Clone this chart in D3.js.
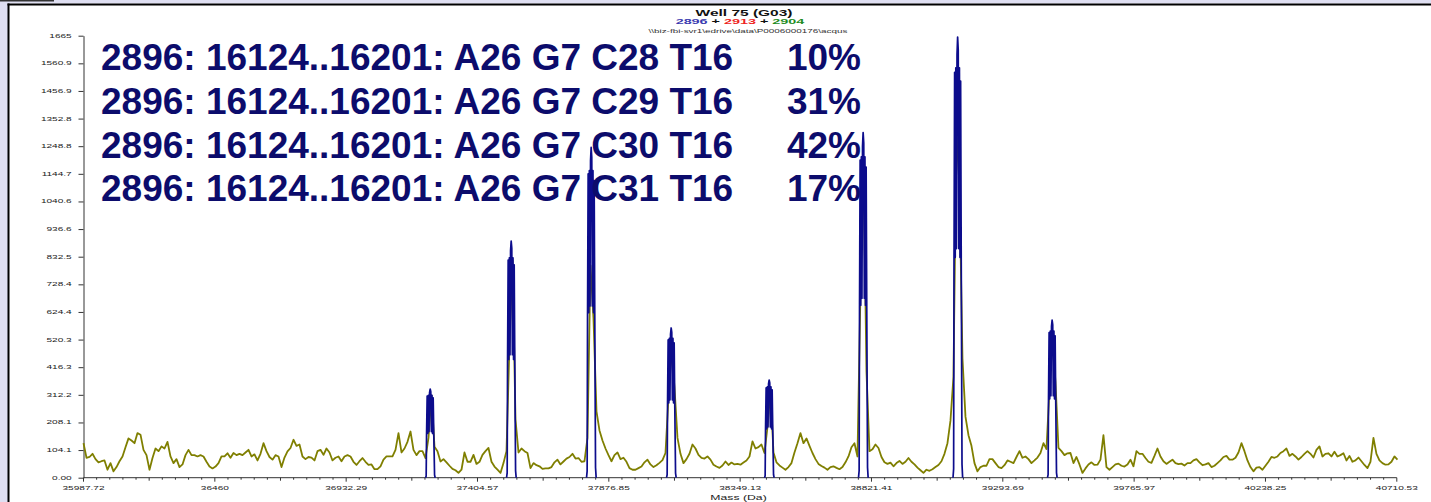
<!DOCTYPE html>
<html>
<head>
<meta charset="utf-8">
<script src="https://cdn.jsdelivr.net/npm/d3@7"></script>
<style>
  body { margin: 0; background: #fff; }
  svg { display: block; font-family: "Liberation Sans", Arial, sans-serif; }
</style>
</head>
<body>
<script>
// ---- data ----
const yTicks = [0, 104.1, 208.1, 312.2, 416.3, 520.3, 624.4, 728.4, 832.5, 936.6, 1040.6, 1144.7, 1248.8, 1352.8, 1456.9, 1560.9, 1665];
const yTickLabels = ["0.00", "104.1", "208.1", "312.2", "416.3", "520.3", "624.4", "728.4", "832.5", "936.6", "1040.6", "1144.7", "1248.8", "1352.8", "1456.9", "1560.9", "1665"];
const xTicks = [35987.72, 36460, 36932.29, 37404.57, 37876.85, 38349.13, 38821.41, 39293.69, 39765.97, 40238.25, 40710.53];
const xTickLabels = ["35987.72", "36460", "36932.29", "37404.57", "37876.85", "38349.13", "38821.41", "39293.69", "39765.97", "40238.25", "40710.53"];

// blue trace (2896): peak centres (Da) and heights
const peakCenters = [37234.4, 37525.7, 37813.3, 38101.0, 38453.4, 38791.4, 39131.2, 39471.0];
const peakHeights = [334, 891, 1244, 564, 368, 1300, 1660, 594];
// shape of one peak as drawn: offset (Da) and fraction of its height
const peakShapeDx = [-16.6, -14.4, -13.0, -10.8, -8.6, -6.5, -4.3, -2.2, 0, 2.2, 4.3, 6.5, 8.6, 10.8, 13.0, 15.8, 18.0];
const peakShapeFrac = [0, 0.02, 0.49, 0.92, 0.50, 0.93, 0.52, 0.96, 1.0, 0.97, 0.52, 0.93, 0.50, 0.90, 0.49, 0.03, 0];

// olive trace: sampled from 35987.72 Da every 10.788 Da
const noiseStart = 35987.72;
const noiseStep = 10.788;
const noise = [
  130, 75, 78, 90, 70, 58, 62, 65, 30, 55,
  24, 40, 62, 80, 115, 148, 140, 130, 168, 162,
  105, 85, 30, 74, 110, 100, 118, 110, 135, 80,
  55, 70, 40, 50, 85, 105, 85, 85, 80, 85,
  80, 60, 42, 35, 42, 55, 80, 80, 92, 75,
  93, 85, 90, 85, 95, 105, 80, 88, 65, 90,
  130, 100, 78, 68, 85, 80, 40, 76, 99, 112,
  143, 120, 125, 80, 70, 78, 76, 65, 100, 105,
  86, 110, 95, 65, 75, 80, 62, 80, 85, 80,
  60, 48, 62, 74, 60, 48, 50, 32, 32, 43,
  68, 80, 80, 80, 105, 168, 95, 110, 135, 174,
  105, 85, 100, 100, 74, 150, 310, 117, 100, 61,
  70, 58, 45, 33, 28, 18, 30, 95, 60, 60,
  86, 52, 60, 86, 100, 112, 60, 42, 30, 18,
  55, 100, 500, 820, 220, 95, 110, 100, 93, 36,
  55, 47, 43, 33, 35, 35, 40, 58, 68, 50,
  61, 72, 78, 90, 72, 74, 60, 62, 150, 800,
  600, 250, 178, 140, 110, 85, 62, 85, 95, 70,
  75, 60, 36, 30, 30, 36, 42, 58, 68, 50,
  40, 47, 56, 66, 93, 300, 480, 340, 150, 90,
  55, 70, 90, 125, 110, 86, 75, 72, 80, 68,
  49, 42, 37, 46, 61, 48, 57, 50, 52, 49,
  57, 65, 80, 137, 110, 115, 125, 93, 190, 330,
  95, 58, 46, 38, 30, 40, 55, 95, 130, 168,
  130, 148, 120, 93, 70, 52, 44, 38, 30, 40,
  43, 37, 32, 40, 58, 80, 115, 130, 80, 700,
  1200, 400, 100, 107, 125, 112, 78, 58, 52, 57,
  43, 55, 63, 52, 60, 74, 60, 50, 38, 28,
  18, 30, 26, 32, 40, 48, 62, 90, 130, 215,
  380, 1300, 1100, 450, 230, 160, 120, 55, 24, 40,
  45, 45, 70, 70, 55, 40, 36, 47, 65, 60,
  55, 78, 100, 75, 80, 70, 55, 65, 76, 93,
  130, 108, 330, 520, 360, 112, 100, 85, 92, 93,
  55, 78, 50, 18, 35, 50, 58, 48, 49, 68,
  160, 40, 30, 40, 50, 53, 45, 42, 50, 68,
  43, 100, 90, 90, 74, 60, 56, 82, 110, 80,
  62, 52, 60, 68, 55, 51, 53, 46, 55, 55,
  65, 70, 58, 47, 50, 55, 40, 45, 55, 65,
  78, 82, 68, 68, 75, 95, 130, 100, 65, 40,
  24, 38, 40, 30, 45, 60, 78, 75, 80, 93,
  100, 110, 82, 90, 80, 68, 78, 90, 100, 90,
  76, 105, 118, 80, 90, 92, 80, 98, 80, 85,
  92, 65, 82, 60, 65, 76, 62, 48, 36, 60,
  150, 90, 65, 55, 49, 50, 60, 80, 68
];

const titleText = "Well 75 (G03)";
const traceNames = ["2896", "2913", "2904"];
const traceColors = ["#3a3ab0", "#ee2222", "#228b22"];
const pathText = "\\\\biz-fbi-svr1\\edrive\\data\\P0006000176\\acqus";
const resultLabels = [
  "2896: 16124..16201: A26 G7 C28 T16",
  "2896: 16124..16201: A26 G7 C29 T16",
  "2896: 16124..16201: A26 G7 C30 T16",
  "2896: 16124..16201: A26 G7 C31 T16"
];
const resultPercents = ["10%", "31%", "42%", "17%"];

// ---- drawing ----
const W = 1431, H = 502;
const stretch = 1.8; // the chart's own small text is stretched sideways

const svg = d3.select("body").append("svg")
  .attr("width", W)
  .attr("height", H);

// frame round the chart
svg.append("rect").attr("x", 0).attr("y", 0).attr("width", W).attr("height", H).attr("fill", "#fff");
svg.append("rect").attr("x", 0).attr("y", 0).attr("width", 8).attr("height", H).attr("fill", "#dfdff2");
svg.append("rect").attr("x", 0).attr("y", 0).attr("width", W).attr("height", 3.5).attr("fill", "#dfdff2");
svg.append("rect").attr("x", 0).attr("y", 0).attr("width", 54).attr("height", 1.5).attr("fill", "#333");
svg.append("rect").attr("x", 7.5).attr("y", 3.5).attr("width", 2).attr("height", H).attr("fill", "#000");
svg.append("rect").attr("x", 7.5).attr("y", 3.5).attr("width", W).attr("height", 2).attr("fill", "#000");

let x = d3.scaleLinear()
  .domain([xTicks[0], xTicks[xTicks.length - 1]])
  .range([83.5, 1396.8]);

let y = d3.scaleLinear()
  .domain([0, 1665])
  .range([477.7, 35.7]);

// x axis: labelled ticks, half ticks and tenths
let xAxisG = svg.append("g")
  .attr("transform", "translate(0," + y(0) + ")");

xAxisG.append("line")
  .attr("x1", x.range()[0]).attr("x2", x.range()[1])
  .attr("stroke", "#333").attr("stroke-width", 1);

let tickStep = (xTicks[1] - xTicks[0]) / 10;
let minorTicks = d3.range(0, 101).map(i => xTicks[0] + i * tickStep);

xAxisG.selectAll(".minor")
  .data(minorTicks)
  .enter()
  .append("line")
  .attr("class", "minor")
  .attr("x1", d => x(d)).attr("x2", d => x(d))
  .attr("y1", 0)
  .attr("y2", (d, i) => i % 10 === 0 ? 4 : (i % 5 === 0 ? 3 : 2))
  .attr("stroke", "#333")
  .attr("stroke-width", 1);

xAxisG.selectAll(".xlab")
  .data(xTicks)
  .enter()
  .append("text")
  .attr("class", "xlab")
  .attr("transform", d => "translate(" + x(d) + ",12.6) scale(" + stretch + ",1)")
  .attr("text-anchor", "middle")
  .attr("font-size", 5.6)
  .attr("fill", "#222")
  .text((d, i) => xTickLabels[i]);

svg.append("text")
  .attr("transform", "translate(738.5,499.5) scale(" + stretch + ",1)")
  .attr("text-anchor", "middle")
  .attr("font-size", 6.8)
  .attr("fill", "#222")
  .text("Mass (Da)");

// y axis
let axeY = d3.axisLeft(y)
  .tickValues(yTicks)
  .tickFormat("")
  .tickSize(5)
  .tickSizeOuter(0);

let yAxisG = svg.append("g")
  .attr("transform", "translate(" + x.range()[0] + ",0)")
  .call(axeY);

yAxisG.select(".domain").attr("stroke", "#333");
yAxisG.selectAll(".tick line").attr("stroke", "#333");

yAxisG.selectAll(".ylab")
  .data(yTicks)
  .enter()
  .append("text")
  .attr("class", "ylab")
  .attr("transform", d => "translate(-11.8," + (y(d) + 2) + ") scale(" + stretch + ",1)")
  .attr("text-anchor", "end")
  .attr("font-size", 5.6)
  .attr("fill", "#222")
  .text((d, i) => yTickLabels[i]);

// olive trace
let line = d3.line()
  .x(d => x(d[0]))
  .y(d => y(d[1]));

let noisePoints = noise.map((v, i) => [noiseStart + i * noiseStep, v]);

svg.append("path")
  .datum(noisePoints)
  .attr("d", line)
  .attr("fill", "none")
  .attr("stroke", "#7f7f00")
  .attr("stroke-width", 1.8)
  .attr("stroke-linejoin", "round");

// blue peaks
let peaks = peakCenters.map((c, i) =>
  peakShapeDx.map((dx, j) => [c + dx, peakHeights[i] * peakShapeFrac[j]]));

svg.selectAll(".peak")
  .data(peaks)
  .enter()
  .append("path")
  .attr("class", "peak")
  .attr("d", line)
  .attr("fill", "none")
  .attr("stroke", "#0c0c8c")
  .attr("stroke-width", 1.7)
  .attr("stroke-linejoin", "round");

// header, centred above the plot
svg.append("text")
  .attr("transform", "translate(744,16) scale(" + stretch + ",1)")
  .attr("text-anchor", "middle")
  .attr("font-size", 8.6)
  .attr("font-weight", "bold")
  .attr("fill", "#111")
  .text(titleText);

let sub = svg.append("text")
  .attr("transform", "translate(740,24) scale(" + stretch + ",1)")
  .attr("text-anchor", "middle")
  .attr("font-size", 8)
  .attr("font-weight", "bold");
traceNames.forEach(function(n, i) {
  if (i > 0) sub.append("tspan").attr("fill", "#111").text(" + ");
  sub.append("tspan").attr("fill", traceColors[i]).text(n);
});

svg.append("text")
  .attr("transform", "translate(748,32.6) scale(" + stretch + ",1)")
  .attr("text-anchor", "middle")
  .attr("font-size", 5.5)
  .attr("fill", "#333")
  .text(pathText);

// result lines over the chart
let res = svg.append("g")
  .attr("font-size", 37)
  .attr("font-weight", "bold")
  .attr("fill", "#0c0c6c");

res.selectAll(".lab")
  .data(resultLabels)
  .enter()
  .append("text")
  .attr("class", "lab")
  .attr("x", 101)
  .attr("y", (d, i) => 70 + i * 43.8)
  .text(d => d);

res.selectAll(".pct")
  .data(resultPercents)
  .enter()
  .append("text")
  .attr("class", "pct")
  .attr("x", 861)
  .attr("text-anchor", "end")
  .attr("y", (d, i) => 70 + i * 43.8)
  .text(d => d);
</script>
</body>
</html>
